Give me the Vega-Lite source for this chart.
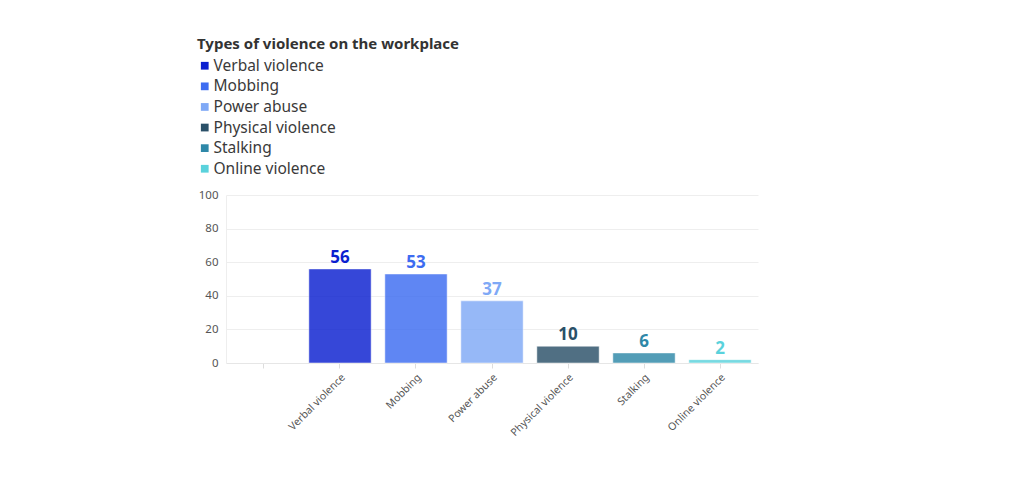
{
  "$schema": "https://vega.github.io/schema/vega-lite/v6.json",
  "width": 532,
  "height": 168,
  "autosize": {"type": "none"},
  "padding": {"left": 226, "top": 195, "right": 266, "bottom": 123},
  "background": "white",
  "config": {
    "font": "Noto Sans",
    "view": {"stroke": null}
  },
  "data": {
    "values": [
      {"type": "Verbal violence", "value": 56},
      {"type": "Mobbing", "value": 53},
      {"type": "Power abuse", "value": 37},
      {"type": "Physical violence", "value": 10},
      {"type": "Stalking", "value": 6},
      {"type": "Online violence", "value": 2}
    ]
  },
  "encoding": {
    "x": {
      "field": "type",
      "type": "nominal",
      "sort": null,
      "scale": {
        "domain": ["", "Verbal violence", "Mobbing", "Power abuse", "Physical violence", "Stalking", "Online violence"],
        "paddingInner": 0.18,
        "paddingOuter": 0.09
      },
      "axis": {
        "title": null,
        "labelAngle": -45,
        "labelAlign": "right",
        "labelBaseline": "top",
        "labelFontSize": 10.5,
        "labelColor": "#555555",
        "labelPadding": 4,
        "domainColor": "#e6e6e6",
        "tickColor": "#dddddd",
        "tickSize": 5
      }
    },
    "y": {
      "field": "value",
      "type": "quantitative",
      "scale": {"domain": [0, 100]},
      "axis": {
        "title": null,
        "values": [0, 20, 40, 60, 80, 100],
        "labelFontSize": 11.5,
        "labelColor": "#555555",
        "labelPadding": 8,
        "ticks": false,
        "domainColor": "#eeeeee",
        "gridColor": "#eeeeee"
      }
    },
    "color": {
      "field": "type",
      "type": "nominal",
      "sort": null,
      "scale": {
        "domain": ["Verbal violence", "Mobbing", "Power abuse", "Physical violence", "Stalking", "Online violence"],
        "range": ["#0b1fd0", "#3d6cf1", "#7fa9f6", "#2a5068", "#2e88a8", "#5ad2dc"]
      },
      "legend": {
        "title": "Types of violence on the workplace",
        "orient": "none",
        "legendX": -29,
        "legendY": -158,
        "titleFontSize": 15,
        "titleFontWeight": "bold",
        "titleColor": "#333333",
        "titleLimit": 500,
        "titlePadding": 6,
        "labelFontSize": 15.5,
        "labelColor": "#3a3a3a",
        "labelOffset": 1,
        "labelLimit": 400,
        "symbolType": "square",
        "symbolSize": 60,
        "symbolStrokeWidth": 0,
        "symbolOpacity": 1,
        "rowPadding": 3.6
      }
    }
  },
  "layer": [
    {
      "mark": {"type": "bar", "opacity": 0.82, "stroke": "white", "strokeWidth": 0.5}
    },
    {
      "mark": {"type": "text", "dy": -11, "fontSize": 17, "fontWeight": "bold"},
      "encoding": {"text": {"field": "value", "type": "quantitative"}}
    }
  ]
}
